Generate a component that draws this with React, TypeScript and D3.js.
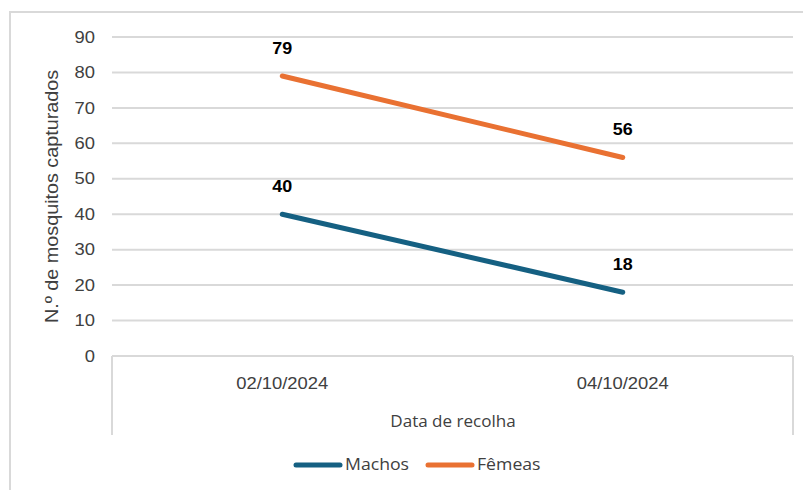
import React from 'react';
import * as d3 from 'd3';

const categories = ['02/10/2024', '04/10/2024'];
const machos = [40, 18];
const femeas = [79, 56];
const yTicks = [0, 10, 20, 30, 40, 50, 60, 70, 80, 90];

const series = [
  { name: 'Machos', values: machos, color: '#156082' },
  { name: 'Fêmeas', values: femeas, color: '#E97132' }
];

const W = 803;
const H = 490;
const margin = { top: 37, right: 10, bottom: 134, left: 112 };

const sans = 'Liberation Sans, Arial, sans-serif';
const ui = 'Open Sans, Noto Sans, sans-serif';

// text that is a bit wider than the installed fonts, stretched along its baseline
function T(props: any) {
  const { x, y, sx = 1.15, rotate = 0, children, ...rest } = props;
  return (
    <g transform={`translate(${x},${y}) rotate(${rotate}) scale(${sx},1)`}>
      <text dy="0.35em" {...rest}>{children}</text>
    </g>
  );
}

export default function App() {
  const x = d3.scaleBand()
    .domain(categories)
    .range([margin.left, W - margin.right]);

  const y = d3.scaleLinear()
    .domain([0, 90])
    .range([H - margin.bottom, margin.top]);

  const cx = (i: number) => x(categories[i])! + x.bandwidth() / 2;

  const line = d3.line<number>()
    .x((d, i) => cx(i))
    .y(d => y(d));

  const axisY = y(0);

  return (
    <svg width={W} height={H} style={{ position: 'absolute', left: 0, top: 0 }}>
      <rect x={10} y={12} width={W + 10} height={H + 10} fill="#fff" stroke="#d9d9d9" strokeWidth={2} />

      {/* gridlines */}
      {yTicks.map(t => (
        <line key={t} x1={margin.left} x2={W - margin.right} y1={y(t)} y2={y(t)}
          stroke="#d9d9d9" strokeWidth={2} />
      ))}
      {yTicks.map(t => (
        <T key={'l' + t} x={95} y={y(t)} textAnchor="end"
          fontFamily={sans} fontSize={16} fill="#404040">{t}</T>
      ))}

      {/* category axis box lines */}
      {[margin.left, W - margin.right].map(v => (
        <line key={v} x1={v} x2={v} y1={axisY} y2={435} stroke="#d9d9d9" strokeWidth={2} />
      ))}
      {categories.map((c, i) => (
        <T key={c} x={cx(i)} y={383} textAnchor="middle"
          fontFamily={sans} fontSize={16} fill="#404040">{c}</T>
      ))}

      <T x={453} y={422} sx={1.1} textAnchor="middle" fontFamily={ui} fontSize={15.5} fill="#404040">
        Data de recolha
      </T>
      <T x={52} y={(margin.top + axisY) / 2} rotate={-90} sx={1.13} textAnchor="middle"
        fontFamily={sans} fontSize={17.5} fill="#404040">
        N.º de mosquitos capturados
      </T>

      {series.map(s => (
        <g key={s.name}>
          <path d={line(s.values)!} fill="none" stroke={s.color} strokeWidth={5} strokeLinecap="round" />
          {s.values.map((v, i) => (
            <T key={i} x={cx(i)} y={y(v) - 28} sx={1.12} textAnchor="middle"
              fontFamily={sans} fontSize={16} fontWeight="bold" fill="#000">{v}</T>
          ))}
        </g>
      ))}

      {/* legend */}
      {series.map((s, i) => {
        const lx = 296 + i * 132;
        return (
          <g key={'lg' + s.name}>
            <line x1={lx} x2={lx + 44} y1={465} y2={465} stroke={s.color} strokeWidth={5} strokeLinecap="round" />
            <T x={lx + 49} y={465} sx={1.14} fontFamily={ui} fontSize={15.5} fill="#404040">{s.name}</T>
          </g>
        );
      })}
    </svg>
  );
}
